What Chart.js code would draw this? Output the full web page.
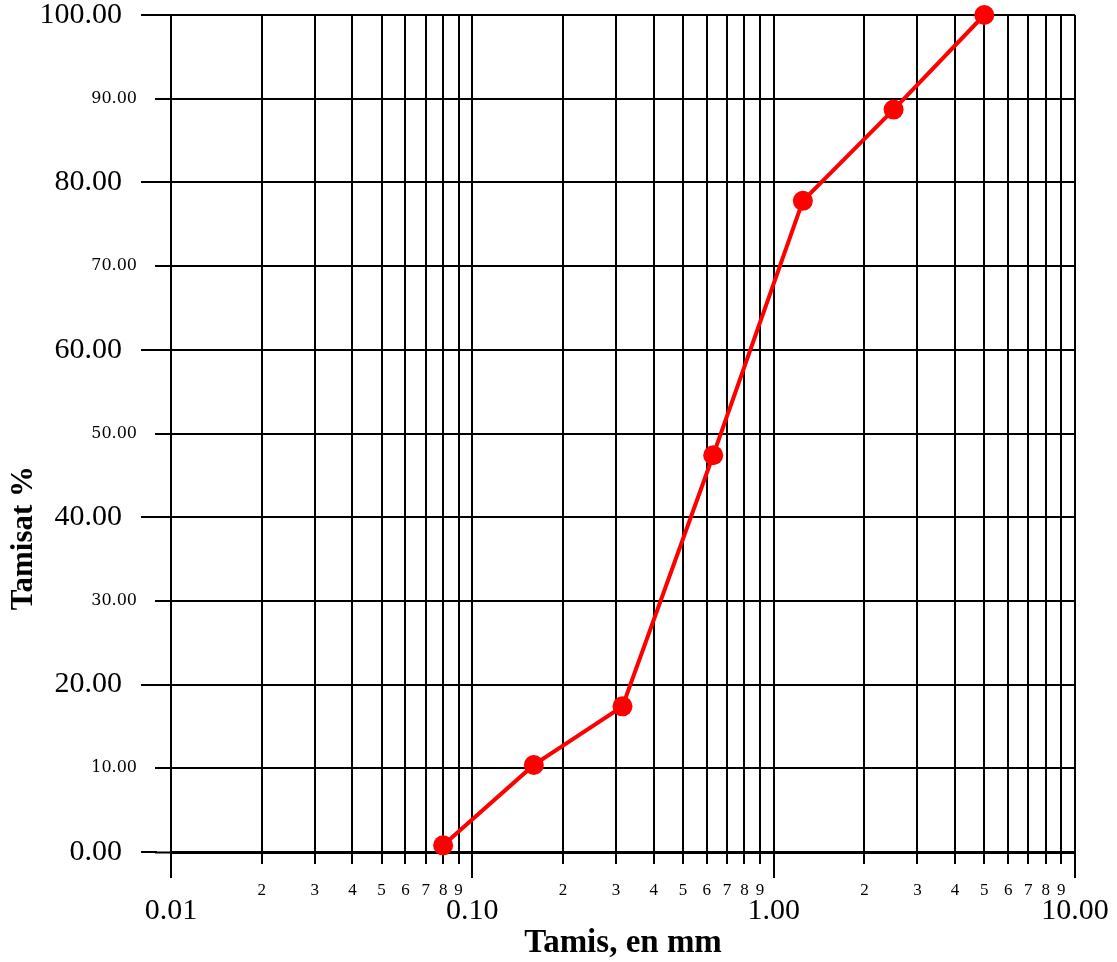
<!DOCTYPE html>
<html>
<head>
<meta charset="utf-8">
<script src="https://cdn.jsdelivr.net/npm/chart.js@4.4.1/dist/chart.umd.min.js"></script>
<style>
  html, body { margin: 0; padding: 0; background: #ffffff; }
  #wrap { width: 1117px; height: 962px; }
</style>
</head>
<body>
<div id="wrap"><canvas id="c" width="1117" height="962"></canvas></div>
<script>
// ---- data ----
const sieveSizes = [0.08, 0.16, 0.315, 0.63, 1.25, 2.5, 5];
const passingPercent = [0.8, 10.4, 17.4, 47.4, 77.8, 88.7, 100];

// ---- tick labels ----
const decadeValues = [0.01, 0.1, 1, 10];
const decadeLabels = ['0.01', '0.10', '1.00', '10.00'];
const minorDigits = [2, 3, 4, 5, 6, 7, 8, 9];
const yTickValues = [0, 10, 20, 30, 40, 50, 60, 70, 80, 90, 100];
const yMajorValues = [0, 20, 40, 60, 80, 100];

const xTitle = 'Tamis, en mm';
const yTitle = 'Tamisat %';

// ---- helpers ----
const SERIF = '"Liberation Serif", "Times New Roman", serif';
function decadeIndex(v) {
  return decadeValues.findIndex(d => Math.abs(v / d - 1) < 1e-6);
}
function isYMajor(v) { return yMajorValues.includes(v); }
function noPad(scale) {
  scale.paddingTop = 0; scale.paddingBottom = 0;
  scale.paddingLeft = 0; scale.paddingRight = 0;
}

const xTickValues = [];
decadeValues.forEach((d, i) => {
  xTickValues.push(d);
  if (i < decadeValues.length - 1) minorDigits.forEach(m => xTickValues.push(m * d));
});

const longTicks = {
  id: 'longTicks',
  afterDraw(chart) {
    const { ctx, chartArea, scales } = chart;
    ctx.save();
    ctx.strokeStyle = '#000';
    ctx.lineWidth = 2;
    decadeValues.forEach(v => {
      const px = Math.round(scales.x.getPixelForValue(v));
      ctx.beginPath();
      ctx.moveTo(px, chartArea.bottom + 10);
      ctx.lineTo(px, chartArea.bottom + 26);
      ctx.stroke();
    });
    yMajorValues.forEach(v => {
      const py = Math.round(scales.y.getPixelForValue(v));
      ctx.beginPath();
      ctx.moveTo(chartArea.left - 30, py);
      ctx.lineTo(chartArea.left - 14, py);
      ctx.stroke();
    });
    ctx.restore();
  }
};

new Chart(document.getElementById('c'), {
  type: 'line',
  data: {
    datasets: [{
      data: sieveSizes.map((s, i) => ({ x: s, y: passingPercent[i] })),
      borderColor: '#ff0000',
      backgroundColor: '#ff0000',
      borderWidth: 4,
      pointRadius: 10,
      pointHoverRadius: 10,
      pointBorderWidth: 0,
      pointBackgroundColor: '#ff0000',
      tension: 0,
      clip: false
    }]
  },
  options: {
    responsive: false,
    animation: false,
    devicePixelRatio: 1,
    layout: { padding: { left: 0, right: 42, top: 15, bottom: 0 } },
    plugins: {
      legend: { display: false },
      tooltip: { enabled: false }
    },
    scales: {
      x: {
        type: 'logarithmic',
        min: 0.01,
        max: 10,
        afterBuildTicks: scale => { scale.ticks = xTickValues.map(v => ({ value: v })); },
        afterFit: scale => { scale.height = 110; noPad(scale); },
        grid: {
          color: '#000',
          lineWidth: 2,
          tickLength: 12,
          tickColor: '#000',
          tickWidth: 2
        },
        border: { display: true, color: '#000', width: 2 },
        ticks: {
          autoSkip: false,
          maxRotation: 0,
          minRotation: 0,
          padding: 16,
          color: '#000',
          font: ctx => {
            const v = ctx.tick ? ctx.tick.value : 0;
            return decadeIndex(v) >= 0
              ? { family: SERIF, size: 30, lineHeight: 0.69 }
              : { family: SERIF, size: 17, lineHeight: 1.2 };
          },
          callback: value => {
            const i = decadeIndex(value);
            if (i >= 0) return ['', decadeLabels[i]];
            const p = Math.pow(10, Math.floor(Math.log10(value) + 1e-9));
            return String(Math.round(value / p));
          }
        },
        title: {
          display: true,
          text: xTitle,
          color: '#000',
          font: { family: SERIF, size: 33, weight: 'bold', lineHeight: 1.0 },
          padding: { top: 0, bottom: 2 }
        }
      },
      y: {
        min: 0,
        max: 100,
        afterBuildTicks: scale => { scale.ticks = yTickValues.map(v => ({ value: v })); },
        afterFit: scale => { scale.width = 171; noPad(scale); },
        grid: {
          color: '#000',
          lineWidth: ctx => (ctx.tick && ctx.tick.value === 0 ? 3 : 2),
          tickLength: 16,
          tickColor: '#000',
          tickWidth: 2
        },
        border: { display: true, color: '#000', width: 2 },
        ticks: {
          padding: 18,
          color: '#000',
          font: ctx => {
            const v = ctx.tick ? ctx.tick.value : 0;
            return isYMajor(v)
              ? { family: SERIF, size: 30, lineHeight: 1.0 }
              : { family: '"DejaVu Serif", serif', size: 16, lineHeight: 1.0 };
          },
          callback: value => value.toFixed(2) + (isYMajor(value) ? '  ' : '')
        },
        title: {
          display: true,
          text: yTitle + ' '.repeat(27),
          color: '#000',
          font: { family: SERIF, size: 31, weight: 'bold', lineHeight: 1.0 },
          padding: { top: 8, bottom: 0 }
        }
      }
    }
  },
  plugins: [longTicks]
});
</script>
</body>
</html>
